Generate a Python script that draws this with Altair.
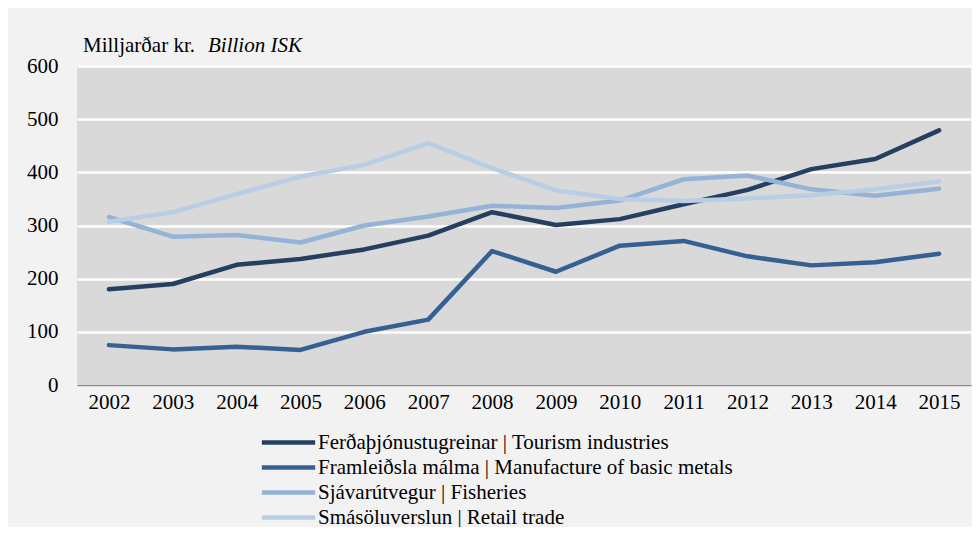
import altair as alt
import pandas as pd

years = ["2002", "2003", "2004", "2005", "2006", "2007", "2008",
         "2009", "2010", "2011", "2012", "2013", "2014", "2015"]

series_names = [
    "Ferðaþjónustugreinar | Tourism industries",
    "Framleiðsla málma | Manufacture of basic metals",
    "Sjávarútvegur | Fisheries",
    "Smásöluverslun | Retail trade",
]

tourism = [180, 190, 226, 237, 255, 281, 325, 301, 312, 340, 367, 406, 425, 479]
metals = [75, 67, 72, 66, 100, 123, 252, 213, 262, 271, 242, 225, 231, 247]
fisheries = [316, 279, 282, 268, 300, 317, 337, 333, 347, 387, 394, 368, 356, 369]
retail = [307, 325, 359, 392, 414, 455, 408, 366, 350, 346, 351, 357, 368, 383]

colors = ["#243f60", "#376092", "#95b3d7", "#b9cde5"]

y_ticks = [0, 100, 200, 300, 400, 500, 600]

rows = []
for name, vals in zip(series_names, [tourism, metals, fisheries, retail]):
    for yr, v in zip(years, vals):
        rows.append({"year": yr, "value": v, "series": name})
df = pd.DataFrame(rows)

FONT = "Liberation Serif, Times New Roman, serif"

lines = alt.Chart(df).mark_line(strokeWidth=4.5, strokeCap="round", strokeJoin="round").encode(
    x=alt.X("year:O", sort=years,
            scale=alt.Scale(type="point", padding=0.5),
            axis=alt.Axis(title=None, labelAngle=0, ticks=False, grid=False,
                          domain=True, domainColor="#888888", domainWidth=1.5,
                          labelFont=FONT, labelFontSize=21, labelColor="#000000",
                          labelPadding=6)),
    y=alt.Y("value:Q",
            scale=alt.Scale(domain=[0, 600], nice=False),
            axis=alt.Axis(title=None, values=y_ticks, ticks=False, domain=False,
                          grid=True, gridColor="#ffffff", gridWidth=2.5,
                          labelFont=FONT, labelFontSize=21, labelColor="#000000",
                          labelPadding=19)),
    color=alt.Color("series:N", sort=series_names,
                    scale=alt.Scale(domain=series_names, range=colors),
                    legend=alt.Legend(title=None, orient="none", legendX=201, legendY=366,
                                      direction="vertical",
                                      symbolType="M-7,0H7", symbolSize=58,
                                      symbolStrokeWidth=4.5,
                                      labelFont=FONT, labelFontSize=21,
                                      labelColor="#000000", labelOffset=19,
                                      rowPadding=3, labelLimit=600)),
)

title_a = alt.Chart(pd.DataFrame({"t": ["Milljarðar kr."]})).mark_text(
    align="left", baseline="alphabetic", font=FONT, fontSize=21, color="#000000"
).encode(x=alt.value(6), y=alt.value(-14), text="t:N")

title_b = alt.Chart(pd.DataFrame({"t": ["Billion ISK"]})).mark_text(
    align="left", baseline="alphabetic", font=FONT, fontSize=21, fontStyle="italic",
    color="#000000"
).encode(x=alt.value(131), y=alt.value(-14), text="t:N")

chart = alt.layer(lines, title_a, title_b).properties(
    width=894, height=319,
    background="#f2f2f2",
    padding={"left": 69, "top": 58, "right": 1, "bottom": 142},
    autosize=alt.AutoSizeParams(type="none"),
).configure_view(fill="#d9d9d9", stroke=None)

chart.save("out.html", embed_options={"renderer": "svg", "actions": False})
